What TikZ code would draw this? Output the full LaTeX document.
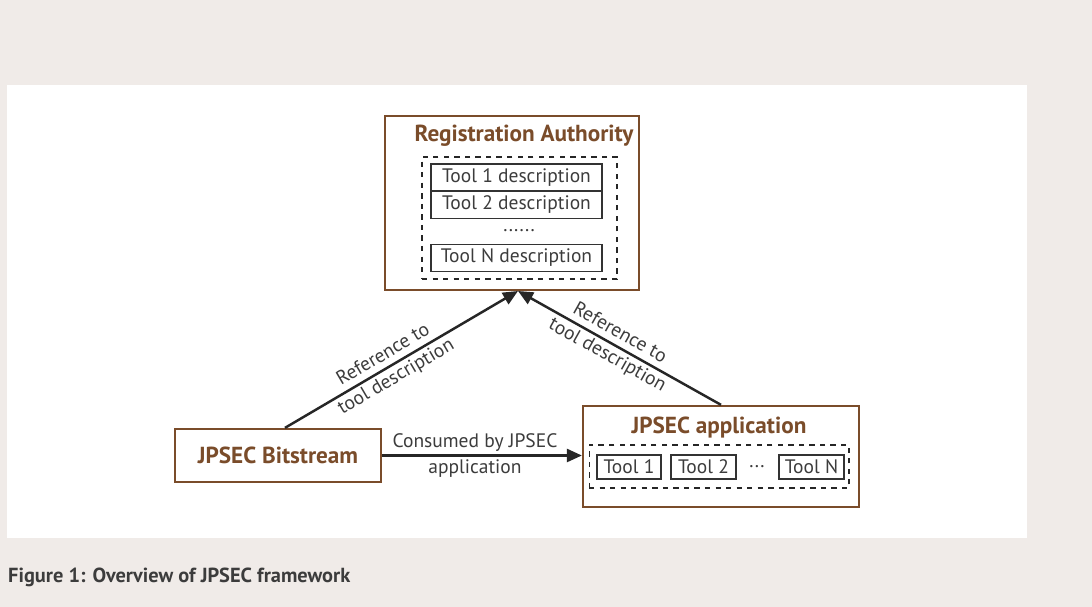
\documentclass[tikz,border=0pt]{standalone}
\usepackage{fontspec}
\setmainfont{PT Sans}
\usetikzlibrary{arrows.meta,positioning,calc}
\definecolor{jpbrown}{RGB}{122,76,42}
\definecolor{jpback}{RGB}{240,235,232}
\definecolor{jpgray}{RGB}{60,60,60}

\begin{document}
\begin{tikzpicture}[x=0.02cm, y=-0.02cm,
    mainbox/.style={draw=jpbrown, line width=1.3pt, fill=white, inner sep=0pt},
    boxtitle/.style={font=\fontsize{13.2}{15}\selectfont\bfseries, text=jpbrown},
    dashbox/.style={draw=black!85, dashed, line width=0.6pt, inner sep=0pt},
    toolbox/.style={draw=black!80, line width=0.6pt, inner sep=0pt, font=\fontsize{11.1}{13}\selectfont, text=jpgray},
    conn/.style={-{Triangle[length=3mm, width=2.6mm]}, line width=1.4pt, black!85},
    connlabel/.style={align=center, font=\fontsize{11.1}{14.5}\selectfont, text=jpgray}]

  % page and panel
  \fill[jpback] (0,0) rectangle (1092,607);
  \fill[white] (7,85) rectangle (1027,538);

  % registration authority
  \node[mainbox, minimum width=5.08cm, minimum height=3.48cm] (ra) at (512,203) {};
  \node[boxtitle] (ratitle) at (524,136) {Registration Authority};
  \node[dashbox, minimum width=3.9cm, minimum height=2.44cm] (radash) at (519.5,218) {};
  \node[toolbox, minimum width=3.42cm, minimum height=0.54cm] (desc1) at (516.5,177.5) {Tool 1 description};
  \node[toolbox, minimum width=3.42cm, minimum height=0.54cm] (desc2) at (516.5,205) {Tool 2 description};
  \node[text=jpgray, font=\fontsize{11.1}{13}\selectfont] (descdots) at (519,231) {......};
  \node[toolbox, minimum width=3.42cm, minimum height=0.54cm] (descn) at (516.5,258) {Tool N description};

  % bitstream
  \node[mainbox, minimum width=4.12cm, minimum height=1.06cm, boxtitle] (bit) at (278,455.5) {JPSEC Bitstream};

  % application
  \node[mainbox, minimum width=5.52cm, minimum height=2.02cm] (app) at (721,456.5) {};
  \node[boxtitle] (apptitle) at (719,428) {JPSEC application};
  \node[dashbox, minimum width=5.2cm, minimum height=0.86cm] (appdash) at (719,466.5) {};
  \node[toolbox, minimum width=1.28cm, minimum height=0.48cm] (tool1) at (629,467) {Tool 1};
  \node[toolbox, minimum width=1.3cm, minimum height=0.48cm] (tool2) at (703.5,467) {Tool 2};
  \node[text=jpgray, font=\fontsize{11.1}{13}\selectfont] (tooldots) at (757,467) {...};
  \node[toolbox, minimum width=1.3cm, minimum height=0.48cm] (tooln) at (811.5,467) {Tool N};

  % connectors
  \coordinate (tip) at (518,291);
  \draw[conn] (bit.north -| 285,0) -- node[connlabel, sloped, pos=0.45] {Reference to\\tool description} (tip);
  \draw[conn] (app.north) -- node[connlabel, sloped, pos=0.53] {Reference to\\tool description} (tip);
  \draw[conn] (bit.east) -- node[connlabel, xshift=-0.14cm] {Consumed by JPSEC\\application} (app.west |- bit.east);

  % caption
  \node[anchor=west, font=\fontsize{11.6}{13}\selectfont\bfseries, text=jpgray] (caption) at (2,577) {Figure 1: Overview of JPSEC framework};
\end{tikzpicture}
\end{document}
